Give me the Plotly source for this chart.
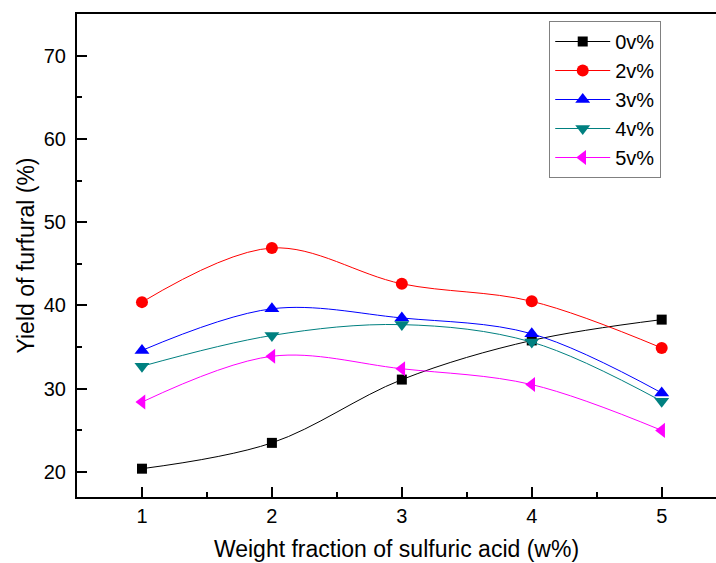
import plotly.graph_objects as go

x_vals = [1, 2, 3, 4, 5]
series_names = ["0v%", "2v%", "3v%", "4v%", "5v%"]
y_0v = [20.4, 23.5, 31.1, 35.8, 38.3]
y_2v = [40.4, 46.9, 42.6, 40.5, 34.9]
y_3v = [34.6, 39.6, 38.5, 36.6, 29.5]
y_4v = [32.7, 36.4, 37.7, 35.6, 28.5]
y_5v = [28.4, 33.9, 32.4, 30.5, 25.0]
y_tick_vals = [20, 30, 40, 50, 60, 70]
x_tick_vals = [1, 2, 3, 4, 5]

series = [y_0v, y_2v, y_3v, y_4v, y_5v]
colors = ["#000000", "#ff0000", "#0000ff", "#008080", "#ff00ff"]
symbols = ["square", "circle", "triangle-up", "triangle-down", "triangle-left"]
sizes = [10, 12, 13, 13, 13]

fig = go.Figure()
for name, ys, c, s, sz in zip(series_names, series, colors, symbols, sizes):
    fig.add_trace(go.Scatter(
        x=x_vals, y=ys, name=name, mode="lines+markers",
        line=dict(color=c, width=1, shape="spline", smoothing=1.0),
        marker=dict(symbol=s, size=sz, color=c, line=dict(width=0)),
    ))

font = "Liberation Sans, Arial, sans-serif"
fig.update_layout(
    width=716, height=563,
    margin=dict(l=77, r=0, t=14, b=66),
    paper_bgcolor="white", plot_bgcolor="white",
    font=dict(family=font, color="#000000"),
    showlegend=True,
    legend=dict(
        x=0.739, y=0.9855, xanchor="left", yanchor="top",
        bordercolor="#808080", borderwidth=1, bgcolor="white",
        font=dict(size=20, family=font),
        tracegroupgap=0, itemwidth=55,
    ),
    xaxis=dict(
        range=[0.5, 5.418], tickvals=x_tick_vals,
        ticks="inside", ticklen=10, tickwidth=2, tickcolor="#000000",
        minor=dict(ticks="inside", ticklen=5, tickwidth=2, tickcolor="#000000", dtick=0.5),
        showline=True, linecolor="#000000", linewidth=2, mirror=True,
        showgrid=False, zeroline=False,
        tickfont=dict(size=20, family=font),
        title=dict(text="Weight fraction of sulfuric acid (w%)", font=dict(size=23, family=font), standoff=15),
    ),
    yaxis=dict(
        range=[17, 75], tickvals=y_tick_vals,
        ticks="inside", ticklen=10, tickwidth=2, tickcolor="#000000",
        minor=dict(ticks="inside", ticklen=5, tickwidth=2, tickcolor="#000000", dtick=5),
        showline=True, linecolor="#000000", linewidth=2, mirror=False,
        showgrid=False, zeroline=False, ticklabelstandoff=5,
        tickfont=dict(size=20, family=font),
        title=dict(text="Yield of furfural (%)", font=dict(size=23, family=font), standoff=3),
    ),
)

fig.write_html(
    "out.html",
    config={"displayModeBar": False},
    post_script="document.body.style.margin='0';document.body.style.overflow='hidden';",
)
